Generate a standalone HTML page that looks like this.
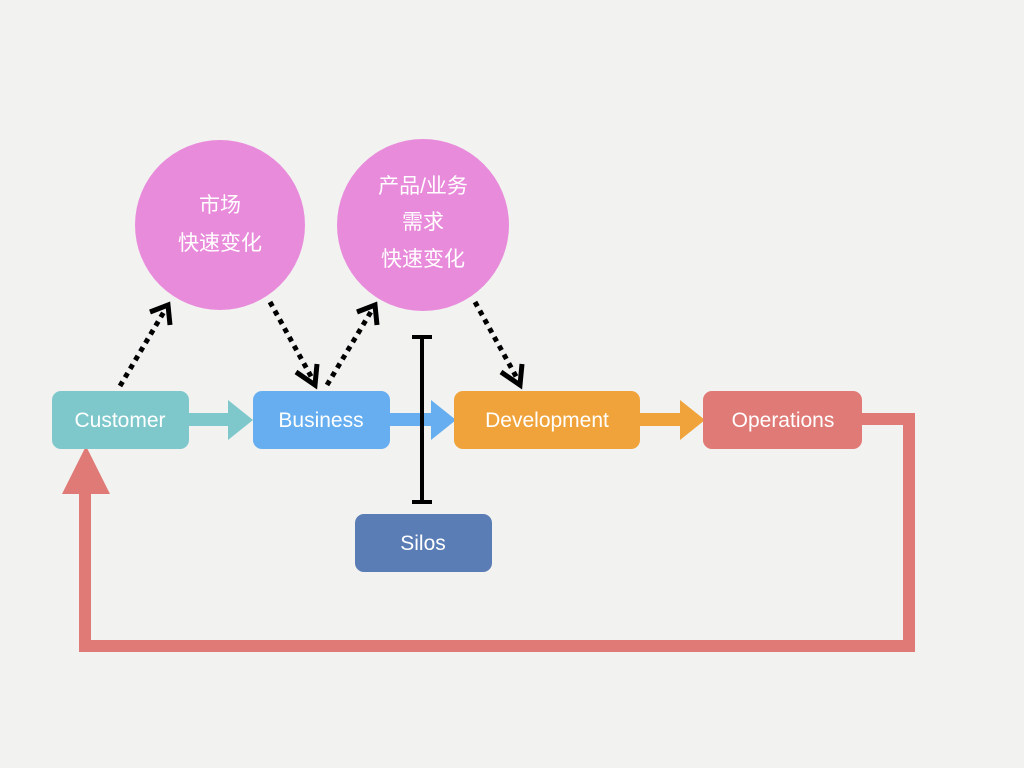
<!DOCTYPE html>
<html><head><meta charset="utf-8"><style>
body{margin:0;width:1024px;height:768px;background:#f2f2f0;overflow:hidden;font-family:"Liberation Sans","Noto Sans CJK SC",sans-serif}
</style></head><body>
<svg width="1024" height="768" xmlns="http://www.w3.org/2000/svg" style="position:absolute;left:0;top:0">
<circle cx="220" cy="225" r="85" fill="#e98bdb"/>
<circle cx="423" cy="225" r="86" fill="#e98bdb"/>
<g font-family="Liberation Sans, Noto Sans CJK SC, sans-serif" fill="#fff" font-size="21" text-anchor="middle">
<text x="220" y="212">市场</text><text x="220" y="250">快速变化</text>
<text x="423" y="193">产品/业务</text><text x="423" y="229">需求</text><text x="423" y="266">快速变化</text>
</g>
<!-- loop -->
<polyline points="862,419 909,419 909,646 85,646 85,490" fill="none" stroke="#e07a76" stroke-width="12"/>
<polygon points="62,494 110,494 86,446" fill="#e07a76"/>
<!-- flow arrows -->
<rect x="186" y="413" width="44" height="13" fill="#7ec8cc"/><polygon points="228,400 228,440 253,420" fill="#7ec8cc"/>
<rect x="388" y="413" width="44" height="13" fill="#66aef0"/><polygon points="431,400 431,440 456,420" fill="#66aef0"/>
<rect x="637" y="413" width="45" height="13" fill="#f0a33a"/><polygon points="680,400 680,440 705,420" fill="#f0a33a"/>
<!-- boxes -->
<rect x="52" y="391" width="137" height="58" rx="9" fill="#7ec8cc"/>
<rect x="253" y="391" width="137" height="58" rx="9" fill="#66aef0"/>
<rect x="454" y="391" width="186" height="58" rx="9" fill="#f0a33a"/>
<rect x="703" y="391" width="159" height="58" rx="9" fill="#e07a76"/>
<rect x="355" y="514" width="137" height="58" rx="9" fill="#5a7db5"/>
<g fill="#fff" font-size="21" text-anchor="middle">
<text x="120" y="427">Customer</text><text x="321" y="427">Business</text>
<text x="547" y="427">Development</text><text x="783" y="427">Operations</text>
<text x="423" y="550">Silos</text>
</g>
<!-- silos line -->
<g stroke="#000" stroke-width="4"><line x1="422" y1="336" x2="422" y2="503"/><line x1="412" y1="337" x2="432" y2="337"/><line x1="412" y1="502" x2="432" y2="502"/></g>
<!-- dotted arrows -->
<g stroke="#000" stroke-width="5" fill="none">
<line x1="120" y1="386" x2="165" y2="310" stroke-dasharray="5 5"/><polyline points="150,312 168,305 170,325"/>
<line x1="270" y1="302" x2="313" y2="380" stroke-dasharray="5 5"/><polyline points="296,372 315,385 317,364"/>
<line x1="327" y1="385" x2="372" y2="310" stroke-dasharray="5 5"/><polyline points="357,312 375,305 377,325"/>
<line x1="475" y1="302" x2="518" y2="380" stroke-dasharray="5 5"/><polyline points="501,372 520,385 522,364"/>
</g>
</svg>
</body></html>
